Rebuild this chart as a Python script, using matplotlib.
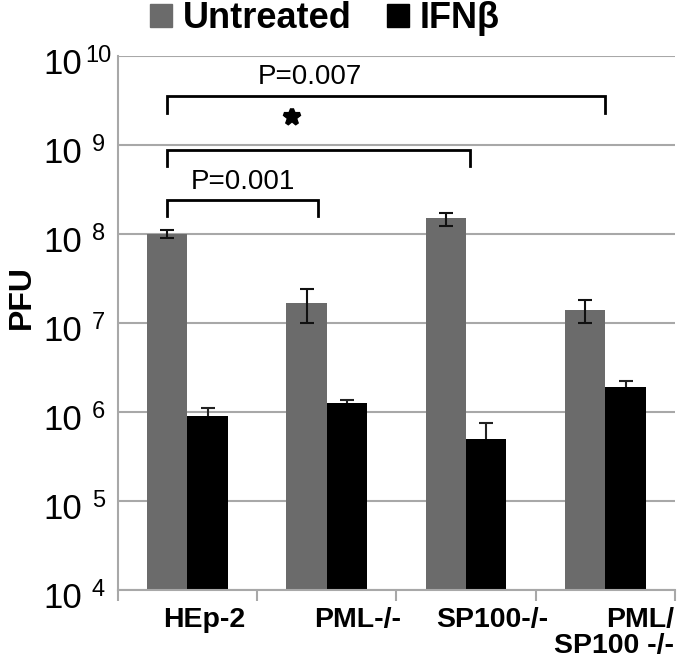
"""
PFU titres for HEp-2 and knockout lines, untreated vs IFNb (log scale)
"""

import matplotlib
matplotlib.use('Agg')
import matplotlib.pyplot as plt
from matplotlib.patches import Patch
from matplotlib.ticker import NullLocator

plt.rcParams['font.family'] = ['Liberation Sans', 'DejaVu Sans']

# ============================================================================
# DATA
# ============================================================================

categories = ['HEp-2', 'PML-/-', 'SP100-/-', 'PML/\nSP100 -/-']
untreated = [1.0e8, 1.7e7, 1.5e8, 1.4e7]
untreated_err = [0.1e8, 0.7e7, 0.25e8, 0.4e7]
ifn = [9.0e5, 1.25e6, 5.0e5, 1.9e6]
ifn_err = [2.0e5, 1.0e5, 2.5e5, 3.5e5]

ytick_values = [1e4, 1e5, 1e6, 1e7, 1e8, 1e9, 1e10]
ytick_exponents = ['4', '5', '6', '7', '8', '9', '10']

# comparisons: (group from, group to, label)
comparisons = [(0, 3, 'P=0.007'), (0, 2, '*'), (0, 1, 'P=0.001')]

# ============================================================================
# FIGURE
# ============================================================================

GRAY = '#6b6b6b'
GRID = '#a8a8a8'
width = 0.29
x = list(range(len(categories)))
x_u = [i - width / 2 for i in x]
x_i = [i + width / 2 for i in x]
floor = ytick_values[0]

fig = plt.figure(figsize=(6.77, 6.62), dpi=100)
ax = fig.add_axes([0.174, 0.109, 0.823, 0.806])
ax.set_yscale('log')

ax.bar(x_u, [v - floor for v in untreated], width, bottom=floor, color=GRAY, zorder=2)
ax.bar(x_i, [v - floor for v in ifn], width, bottom=floor, color='black', zorder=2)
ax.errorbar(x_u, untreated, yerr=untreated_err, fmt='none', ecolor='#111111',
            elinewidth=1.5, capsize=5, capthick=1.5, zorder=3)
ax.errorbar(x_i, ifn, yerr=ifn_err, fmt='none', ecolor='#222222',
            elinewidth=1.5, capsize=5, capthick=1.5, zorder=1.5)

ax.set_xlim(-0.5, len(categories) - 0.5)
ax.set_ylim(ytick_values[0], ytick_values[-1])

# y axis: "10" + raised exponent, drawn as separate texts
ax.set_yticks(ytick_values)
ax.set_yticklabels([])
ax.yaxis.set_minor_locator(NullLocator())
ax.tick_params(axis='y', length=0)
ax.yaxis.grid(True, color=GRID, lw=1.5)
ax.set_axisbelow(True)
for v, e in zip(ytick_values, ytick_exponents):
    ax.annotate('10', xy=(0, v), xycoords=('axes fraction', 'data'),
                xytext=(-26, -6), textcoords='offset points',
                ha='right', va='center', fontsize=25)
    ax.annotate(e, xy=(0, v), xycoords=('axes fraction', 'data'),
                xytext=(-14, 0), textcoords='offset points',
                ha='center', va='center', fontsize=17)

ax.set_ylabel('PFU', fontsize=23, fontweight='bold')
ax.yaxis.set_label_coords(-0.145, 0.549)

# x axis: boundary ticks + shifted labels
ax.set_xticks([i - 0.5 for i in range(len(categories) + 1)])
ax.set_xticklabels([])
ax.tick_params(axis='x', which='major', length=8, width=1.5, color=GRID)
label_shift = [0.12, 0.22, 0.19, 0.06]
ax.set_xticks([i + s for i, s in zip(x, label_shift)], minor=True)
ax.set_xticklabels(categories, minor=True, fontsize=20.5, fontweight='bold',
                   ma='right', va='top', linespacing=1.0)
ax.tick_params(axis='x', which='minor', length=0, pad=12)

for side in ['top', 'right']:
    ax.spines[side].set_visible(False)
for side in ['left', 'bottom']:
    ax.spines[side].set_color(GRID)
    ax.spines[side].set_linewidth(1.5)

# significance brackets
bracket_y = [(3.55e9, 2.3e9), (8.9e8, 5.8e8), (2.45e8, 1.6e8)]
end_shift = [0.0, 0.03, -0.06]
text_pos = [(0.88, 5.8e9), (0.75, 2.07e9), (0.4, 3.9e8)]
for (a, b, lab), (ytop, ybot), sh, (tx, ty) in zip(comparisons, bracket_y, end_shift, text_pos):
    xa = x_u[a]
    xb = b + sh
    ax.plot([xa, xa, xb, xb], [ybot, ytop, ytop, ybot], color='black', lw=2,
            solid_joinstyle='miter', clip_on=False)
    if lab == '*':
        ax.plot([tx], [ty], marker='*', markersize=12, color='black',
                markeredgewidth=3, markeredgecolor='black', linestyle='none')
    else:
        ax.text(tx, ty, lab, ha='center', va='center', fontsize=20)

# legend
handles = [Patch(color=GRAY, label='Untreated'), Patch(color='black', label='IFNβ')]
fig.legend(handles=handles, loc='center', bbox_to_anchor=(325 / 677, 1 - 19 / 662),
           ncol=2, frameon=False, prop={'size': 26, 'weight': 'bold'},
           handlelength=0.6, handleheight=0.6, handletextpad=0.3,
           columnspacing=1.0, borderpad=0, borderaxespad=0)

fig.savefig('out.png', dpi=100)
